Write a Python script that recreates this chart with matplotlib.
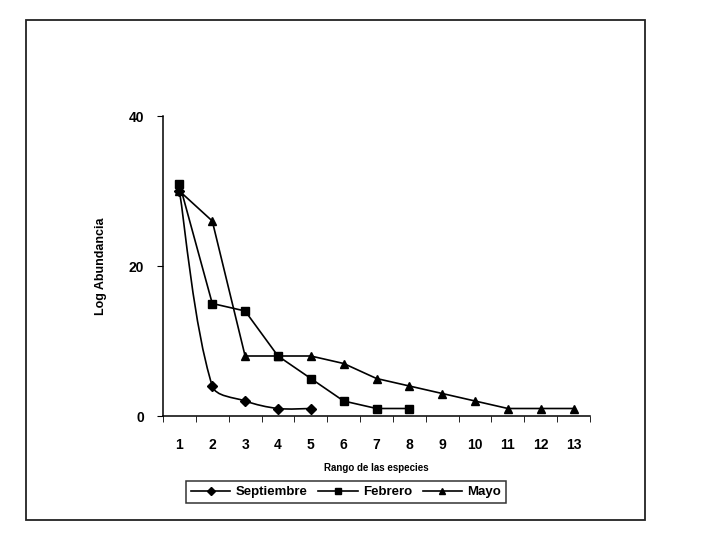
import matplotlib
matplotlib.use('AGG')
import matplotlib.pyplot as plt
from matplotlib.path import Path
from matplotlib.patches import PathPatch, Rectangle

plt.rcParams['font.family'] = ['Liberation Sans', 'DejaVu Sans']
plt.rcParams['font.weight'] = 'bold'

rango = list(range(1, 14))
septiembre = [30, 4, 2, 1, 1]
febrero = [31, 15, 14, 8, 5, 2, 1, 1]
mayo = [30, 26, 8, 8, 8, 7, 5, 4, 3, 2, 1, 1, 1]


def smooth_path(xs, ys, sx=32.8, sy=7.5, t=1.0 / 3):
    # curva suavizada tipo Excel: Bezier con tangentes ponderadas
    # por la distancia en pantalla (sx, sy = pixeles por unidad)
    n = len(xs)

    def dist(i, j):
        return (((xs[j] - xs[i]) * sx) ** 2 + ((ys[j] - ys[i]) * sy) ** 2) ** 0.5

    out_c, in_c = [], []
    for i in range(n):
        a, b = max(i - 1, 0), min(i + 1, n - 1)
        tx, ty = xs[b] - xs[a], ys[b] - ys[a]
        d0 = dist(a, i) if i > 0 else 0.0
        d1 = dist(i, b) if i < n - 1 else 0.0
        if i == 0 or i == n - 1:
            f_in = f_out = t / 2
        else:
            f_out = t * d1 / (d0 + d1)
            f_in = t * d0 / (d0 + d1)
        out_c.append((xs[i] + tx * f_out, ys[i] + ty * f_out))
        in_c.append((xs[i] - tx * f_in, ys[i] - ty * f_in))
    verts = [(xs[0], ys[0])]
    codes = [Path.MOVETO]
    for i in range(n - 1):
        verts += [out_c[i], in_c[i + 1], (xs[i + 1], ys[i + 1])]
        codes += [Path.CURVE4] * 3
    return Path(verts, codes)


fig = plt.figure(figsize=(7.2, 5.4), dpi=100)
fig.patches.append(Rectangle((26 / 720, 1 - 520 / 540), 619 / 720, 500 / 540,
                             transform=fig.transFigure, fill=False,
                             edgecolor='#222222', linewidth=1.3))

ax = fig.add_axes([163 / 720, 1 - 416 / 540, 427 / 720, 300 / 540])

x_s = rango[:len(septiembre)]
ax.add_patch(PathPatch(smooth_path(x_s, septiembre), fill=False,
                       edgecolor='black', linewidth=1.2))
ax.plot(x_s, septiembre, linestyle='none', marker='D', markersize=5.5,
        color='black')
l1, = ax.plot([], [], '-D', color='black', markersize=5.5, linewidth=1.2)
l2, = ax.plot(rango[:len(febrero)], febrero, '-s', color='black',
              markersize=5.5, linewidth=1.2)
l3, = ax.plot(rango[:len(mayo)], mayo, '-^', color='black',
              markersize=6, linewidth=1.2)

ax.set_xlim(0.5, 13.5)
ax.set_ylim(0, 40)
ax.set_yticks([0, 20, 40])
ax.set_xticks(rango)
ax.set_xticks([i + 0.5 for i in range(0, 14)], minor=True)
ax.tick_params(axis='x', which='major', length=0, pad=16, labelsize=10)
ax.tick_params(axis='x', which='minor', length=4.5, direction='out')
ax.tick_params(axis='y', length=4.5, direction='out', labelsize=10, pad=9)
for s in ['top', 'right']:
    ax.spines[s].set_visible(False)
for s in ['left', 'bottom']:
    ax.spines[s].set_linewidth(1.1)

ax.set_xlabel('Rango de las especies', fontsize=7, fontweight='bold',
              labelpad=8)
ax.set_ylabel('Log Abundancia', fontsize=9, fontweight='bold',
              labelpad=16)

leg = fig.legend([l1, l2, l3], ['Septiembre', 'Febrero', 'Mayo'],
                 loc='center', bbox_to_anchor=(346 / 720, 1 - 492 / 540),
                 ncol=3, fontsize=9.5, frameon=True, fancybox=False,
                 handlelength=3.0, columnspacing=0.8, handletextpad=0.4,
                 borderpad=0.35, markerscale=0.8)
leg.get_frame().set_edgecolor('black')
leg.get_frame().set_linewidth(1.1)

plt.savefig('out.png', dpi=100)
plt.close()
